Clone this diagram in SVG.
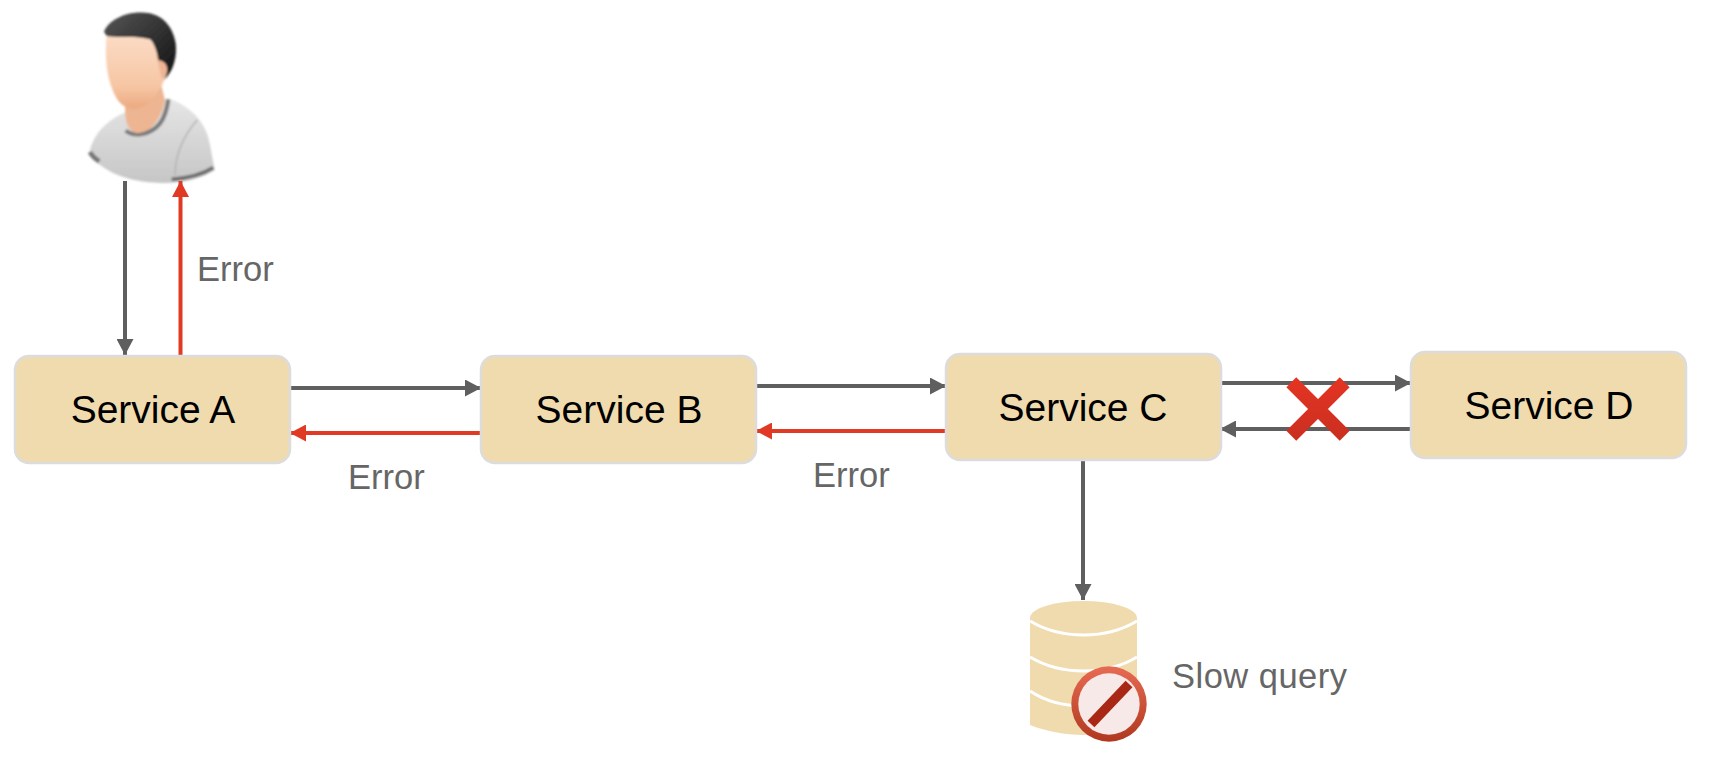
<svg xmlns="http://www.w3.org/2000/svg" width="1724" height="764" viewBox="0 0 1724 764">
<style>
.box{fill:#f0dbae;stroke:#dcdcdc;stroke-width:2.5}
.name{font:39px "Liberation Sans",Arial,sans-serif;fill:#000;text-anchor:middle}
.lab{font:34.500px "Liberation Sans",Arial,sans-serif;fill:#666}
.g{fill:none;stroke:#5f5f5f;stroke-width:4}
.r{fill:none;stroke:#e03a25;stroke-width:4}
</style>
<defs>
<marker id="ag" markerUnits="userSpaceOnUse" markerWidth="17" markerHeight="17" refX="16" refY="8.500" orient="auto"><path d="M0 0L16 8.500L0 17Z" fill="#5f5f5f"/></marker>
<marker id="ar" markerUnits="userSpaceOnUse" markerWidth="17" markerHeight="17" refX="16" refY="8.500" orient="auto"><path d="M0 0L16 8.500L0 17Z" fill="#e03a25"/></marker>
<linearGradient id="skin" x1="0" y1="0" x2="0" y2="1"><stop offset="0" stop-color="#fbdcc6"/><stop offset="0.7" stop-color="#f7c6a4"/><stop offset="1" stop-color="#eba980"/></linearGradient>
<linearGradient id="hair" x1="0" y1="0" x2="1" y2="1"><stop offset="0" stop-color="#555"/><stop offset="1" stop-color="#111"/></linearGradient>
<linearGradient id="shirt" x1="0" y1="0" x2="0" y2="1"><stop offset="0" stop-color="#e6e6e6"/><stop offset="1" stop-color="#c6c6c6"/></linearGradient>
<linearGradient id="ring" x1="0" y1="0" x2="0" y2="1"><stop offset="0" stop-color="#e76b52"/><stop offset="1" stop-color="#b03820"/></linearGradient>
<linearGradient id="cross" gradientUnits="userSpaceOnUse" x1="0" y1="378" x2="0" y2="441"><stop offset="0" stop-color="#e53423"/><stop offset="1" stop-color="#c92f20"/></linearGradient>
<filter id="soft" x="-10%" y="-10%" width="120%" height="120%"><feGaussianBlur stdDeviation="3"/></filter>
</defs>

<g id="user" transform="translate(60 0) scale(.33333)" filter="url(#soft)">
<path d="M88 465C92 420 125 365 200 335L325 295C395 320 440 370 450 435L464 510C430 532 390 546 320 549C220 549 140 525 88 465Z" fill="url(#shirt)"/>
<path d="M90 456C97 470 108 478 118 484" fill="none" stroke="#777" stroke-width="14"/>
<path d="M335 538C380 535 425 525 460 503" fill="none" stroke="#6d6d6d" stroke-width="11"/>
<path d="M345 525C345 460 375 400 412 360" fill="none" stroke="#b0b0b0" stroke-width="4"/>
<path d="M197 392C222 412 272 405 300 370C315 350 322 320 325 298" fill="none" stroke="#7c7c7c" stroke-width="13"/>
<path d="M195 320C195 355 198 385 225 398C265 405 305 360 315 300L300 240L200 290Z" fill="#eeb592"/>
<path d="M140 105C133 170 140 245 170 295C190 330 230 335 262 312C295 285 320 240 325 190L290 100Z" fill="url(#skin)"/>
<path d="M290 170C310 165 330 180 328 205C325 225 315 235 305 235Z" fill="#eeb595"/>
<path d="M132 95C145 60 200 32 255 38C305 40 340 80 347 130C352 170 340 215 312 240C328 210 325 185 295 180C290 150 280 125 270 118C230 105 180 115 140 108Z" fill="url(#hair)"/>
</g>

<g id="connectors">
<path class="g" d="M125 181V355" marker-end="url(#ag)"/>
<path class="r" d="M180.500 356V181" marker-end="url(#ar)"/>
<path class="g" d="M291 388H481" marker-end="url(#ag)"/>
<path class="r" d="M480 433H290" marker-end="url(#ar)"/>
<path class="g" d="M757 386H946" marker-end="url(#ag)"/>
<path class="r" d="M946 431H756" marker-end="url(#ar)"/>
<path class="g" d="M1221 383H1411" marker-end="url(#ag)"/>
<path class="g" d="M1411 429H1220" marker-end="url(#ag)"/>
<path class="g" d="M1083 460V600" marker-end="url(#ag)"/>
</g>

<g id="service-a"><rect class="box" x="15" y="356" width="275" height="107" rx="14"/><text class="name" x="153" y="423">Service A</text></g>
<g id="service-b"><rect class="box" x="481" y="356" width="275" height="107" rx="14"/><text class="name" x="619" y="423">Service B</text></g>
<g id="service-c"><rect class="box" x="946" y="354" width="275" height="106" rx="14"/><text class="name" x="1083" y="421">Service C</text></g>
<g id="service-d"><rect class="box" x="1411" y="352" width="275" height="106" rx="14"/><text class="name" x="1549" y="419">Service D</text></g>

<g id="failure-cross"><path d="M1291.300 382.300L1344.700 435.700M1344.700 382.300L1291.300 435.700" fill="none" stroke="url(#cross)" stroke-width="14"/></g>

<g id="database">
<path d="M1030 618A53.500 17 0 0 1 1137 618V725C1120 731 1100 735 1083.500 735C1065 735 1045 731 1030 725Z" fill="#f0dbae"/>
<path d="M1030 621C1045 630 1065 635 1083.500 635C1102 635 1122 630 1137 621M1030 657C1045 666 1065 671 1083.500 671C1102 671 1122 666 1137 657M1030 691C1045 701 1065 706 1083.500 706C1102 706 1122 701 1137 691" fill="none" stroke="#fff" stroke-width="3"/>
<circle cx="1109" cy="704" r="37.700" fill="url(#ring)"/>
<circle cx="1109" cy="704" r="30.700" fill="#f6e9e7"/>
<path d="M1091 724L1129 684" stroke="#a82815" stroke-width="9.500" fill="none"/>
</g>

<g id="labels">
<text class="lab" x="197" y="281">Error</text>
<text class="lab" x="348" y="489">Error</text>
<text class="lab" x="813" y="487">Error</text>
<text class="lab" x="1172" y="688" textLength="175">Slow query</text>
</g>
</svg>
